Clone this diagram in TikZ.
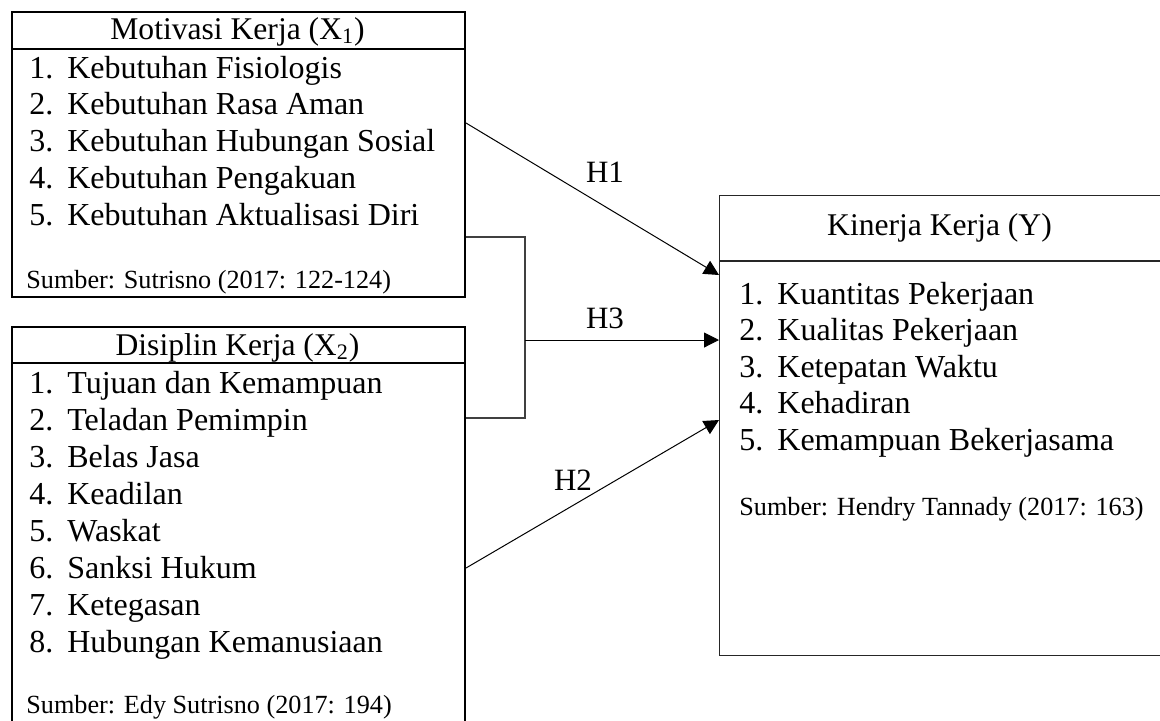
\documentclass[tikz,border=0pt]{standalone}
\usepackage{fontspec}
\setmainfont{Liberation Serif}
\usetikzlibrary{arrows.meta,positioning}

\tikzset{
  varbox/.style={draw, line width=1pt, anchor=north west, inner sep=0pt},
  ybox/.style={draw=black!85, line width=0.6pt, anchor=north west, inner sep=0pt},
  head/.style={font=\fontsize{15.8}{18}\selectfont, anchor=base, inner sep=0pt},
  item/.style={font=\fontsize{16}{18}\selectfont, anchor=base west, inner sep=0pt},
  src/.style={font=\fontsize{13.1}{15}\selectfont, anchor=base west, inner sep=0pt},
  hyp/.style={-{Triangle[length=7.5pt,width=7.5pt]}, line width=0.5pt},
  brk/.style={draw=black!75, line width=0.6pt},
  lbl/.style={font=\fontsize{15.5}{18}\selectfont, anchor=base, inner sep=0pt},
}

\newcommand{\nomor}[2]{\makebox[19pt][l]{#1.}#2}

\begin{document}
\begin{tikzpicture}[x=0.5pt,y=-0.5pt]
  \useasboundingbox (0,0) rectangle (1160,720);

  % variabel X1
  \node[varbox, minimum width=226.5pt, minimum height=142.5pt] (mot) at (11,11) {};
  \draw[line width=1pt] ([yshift=-19pt]mot.north west) -- ([yshift=-19pt]mot.north east);
  \node[head] (motT) at (237.5,39) {Motivasi Kerja (X\textsubscript{1})};
  \foreach \n/\txt in {1/Kebutuhan Fisiologis, 2/Kebutuhan Rasa Aman,
      3/Kebutuhan Hubungan Sosial, 4/Kebutuhan Pengakuan, 5/Kebutuhan Aktualisasi Diri}
    \node[item] (mot\n) at (29,{78+36.75*(\n-1)}) {\nomor{\n}{\txt}};
  \node[src] (motS) at (26,288) {Sumber: Sutrisno (2017: 122-124)};

  % variabel X2
  \node[varbox, minimum width=226.5pt, minimum height=198pt] (dis) at (11,326) {};
  \draw[line width=1pt] ([yshift=-18.5pt]dis.north west) -- ([yshift=-18.5pt]dis.north east);
  \node[head] (disT) at (237.5,355) {Disiplin Kerja (X\textsubscript{2})};
  \foreach \n/\txt in {1/Tujuan dan Kemampuan, 2/Teladan Pemimpin, 3/Belas Jasa,
      4/Keadilan, 5/Waskat, 6/Sanksi Hukum, 7/Ketegasan, 8/Hubungan Kemanusiaan}
    \node[item] (dis\n) at (29,{393+37*(\n-1)}) {\nomor{\n}{\txt}};
  \node[src] (disS) at (26,713) {Sumber: Edy Sutrisno (2017: 194)};

  % variabel Y
  \node[ybox, minimum width=221pt, minimum height=230pt] (kin) at (719,195) {};
  \draw[draw=black!85, line width=0.6pt] ([yshift=-33pt]kin.north west) -- ([yshift=-33pt]kin.north east);
  \node[head] (kinT) at (939.5,235) {Kinerja Kerja (Y)};
  \foreach \n/\txt in {1/Kuantitas Pekerjaan, 2/Kualitas Pekerjaan, 3/Ketepatan Waktu,
      4/Kehadiran, 5/Kemampuan Bekerjasama}
    \node[item] (kin\n) at (739,{304+36.5*(\n-1)}) {\nomor{\n}{\txt}};
  \node[src] (kinS) at (739,515) {Sumber: Hendry Tannady (2017: 163)};

  % hipotesis
  \coordinate (h1a) at (466,123);
  \coordinate (h1b) at (719,275);
  \coordinate (b1) at (466,237);
  \coordinate (b2) at (466,418);
  \coordinate (bm) at (525,340);
  \coordinate (h3b) at (719,340);
  \coordinate (h2a) at (466,568);
  \coordinate (h2b) at (719,420);
  \draw[hyp] (h1a) -- (h1b);
  \draw[brk] (b1) -| (bm) |- (b2);
  \draw[hyp] (bm) -- (h3b);
  \draw[hyp] (h2a) -- (h2b);
  \node[lbl] (lh1) at (605,182) {H1};
  \node[lbl] (lh3) at (605,328) {H3};
  \node[lbl] (lh2) at (573,490) {H2};
\end{tikzpicture}
\end{document}
